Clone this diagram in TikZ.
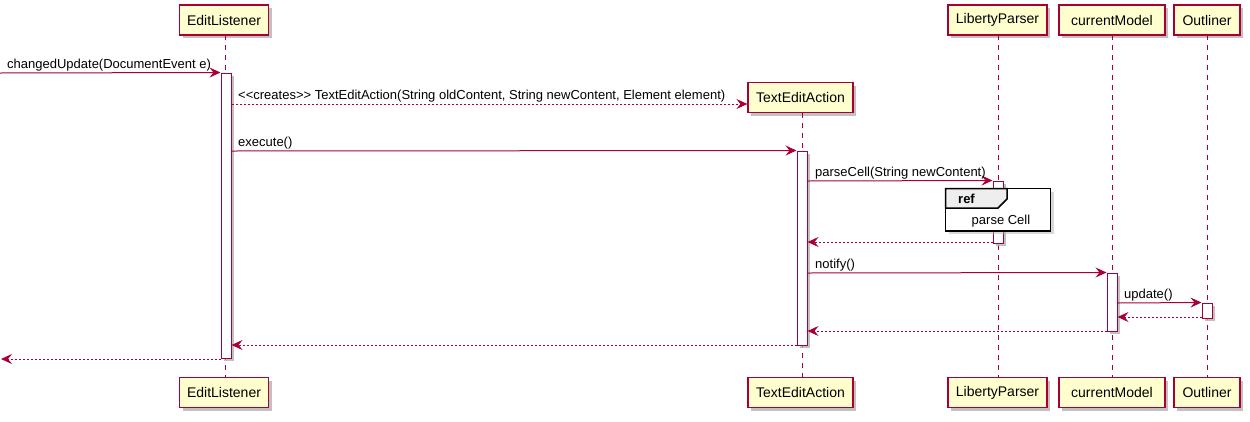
\documentclass[tikz,border=0pt]{standalone}
\usepackage{fontspec}
\setmainfont{Liberation Sans}
\usetikzlibrary{arrows.meta,shadows}
\definecolor{pred}{HTML}{A80036}
\definecolor{pfill}{HTML}{FEFECE}
\definecolor{refhead}{HTML}{EEEEEE}
\tikzset{
 shad/.style={drop shadow={shadow xshift=3pt, shadow yshift=-3pt, fill=black!30, opacity=0.8}},
 part/.style={draw=pred, fill=pfill, line width=1.2pt, minimum height=30pt, inner sep=0pt, font=\fontsize{14}{16}\selectfont, shad},
 life/.style={draw=pred, line width=0.9pt, dash pattern=on 5pt off 5pt},
 act/.style={draw=pred, fill=white, line width=1pt, minimum width=10pt, inner sep=0pt, shad},
 msg/.style={draw=pred, line width=1pt, -{Stealth[length=11pt,width=10pt,inset=4pt]}},
 ret/.style={msg, dash pattern=on 2pt off 2pt},
 lbl/.style={font=\fontsize{13}{15}\selectfont, anchor=base west, inner sep=0pt},
}
\begin{document}
\begin{tikzpicture}[x=1pt,y=-1pt]
\useasboundingbox (0,0) rectangle (1250,421);
% participants top
\node[part, minimum width=89pt] (pEL) at (224,20) {EditListener};
\node[part, minimum width=105pt] (pTA) at (800.5,97.5) {TextEditAction};
\node[part, minimum width=99pt] (pLP) at (997.5,20) {LibertyParser};
\node[part, minimum width=106pt] (pCM) at (1112,20) {currentModel};
\node[part, minimum width=66pt] (pOL) at (1207,20) {Outliner};
% participants bottom
\node[part, minimum width=89pt] (bEL) at (224,392.5) {EditListener};
\node[part, minimum width=105pt] (bTA) at (800.5,392.5) {TextEditAction};
\node[part, minimum width=99pt] (bLP) at (997.5,392.5) {LibertyParser};
\node[part, minimum width=106pt] (bCM) at (1112,392.5) {currentModel};
\node[part, minimum width=66pt] (bOL) at (1207,392.5) {Outliner};
% lifelines
\draw[life] (225,35) -- (225,377);
\draw[life] (802,113) -- (802,377);
\draw[life] (998,35) -- (998,377);
\draw[life] (1112,35) -- (1112,377);
\draw[life] (1207,35) -- (1207,377);
% activations
\node[act, minimum height=285pt] (aEL) at (226,215.5) {};
\node[act, minimum height=194pt] (aTA) at (802,248) {};
\node[act, minimum height=62pt] (aLP) at (998,212) {};
\node[act, minimum height=58pt] (aCM) at (1112,302) {};
\node[act, minimum height=15pt] (aOL) at (1207,310.5) {};
% messages
\coordinate (start) at (0,73);
\coordinate (finish) at (1,359);
\draw[msg] (start) -- (aEL.north west);
\node[lbl] (l1) at (7,68) {changedUpdate(DocumentEvent e)};
\draw[ret] (aEL.east |- 0,104) -- (pTA.west |- 0,104);
\node[lbl] (l2) at (238,99) {<{}<creates>{}> TextEditAction(String oldContent, String newContent, Element element)};
\draw[msg] (aEL.east |- 0,151) -- (aTA.north west);
\node[lbl] (l3) at (238,146) {execute()};
\draw[msg] (aTA.east |- 0,181) -- (aLP.north west);
\node[lbl] (l4) at (815,176) {parseCell(String newContent)};
% ref
\draw[black, line width=1.5pt, fill=white, drop shadow={shadow xshift=3pt, shadow yshift=-3pt, fill=black!30}] (945.5,188.5) rectangle (1050.5,231) coordinate (refc);
\draw[black, line width=1.5pt, fill=refhead] (945.5,188.5) -- (1007,188.5) -- (1007,199) -- (998,208) -- (945.5,208) -- cycle;
\node[font=\fontsize{13}{15}\selectfont\bfseries, anchor=base west, inner sep=0pt] (refl) at (958,203) {ref};
\node[font=\fontsize{13}{15}\selectfont, anchor=base, inner sep=0pt] (refb) at (1001,224) {parse Cell};
\draw[ret] (aLP.west |- 0,242) -- (aTA.east |- 0,242);
\draw[msg] (aTA.east |- 0,273) -- (aCM.north west);
\node[lbl] (l5) at (815,268) {notify()};
\draw[msg] (aCM.east |- 0,303) -- (aOL.north west);
\node[lbl] (l6) at (1124,298) {update()};
\draw[ret] (aOL.west |- 0,317) -- (aCM.east |- 0,317);
\draw[ret] (aCM.west |- 0,331) -- (aTA.east |- 0,331);
\draw[ret] (aTA.west |- 0,345) -- (aEL.east |- 0,345);
\draw[ret] (aEL.west |- 0,359) -- (finish);
\end{tikzpicture}
\end{document}
